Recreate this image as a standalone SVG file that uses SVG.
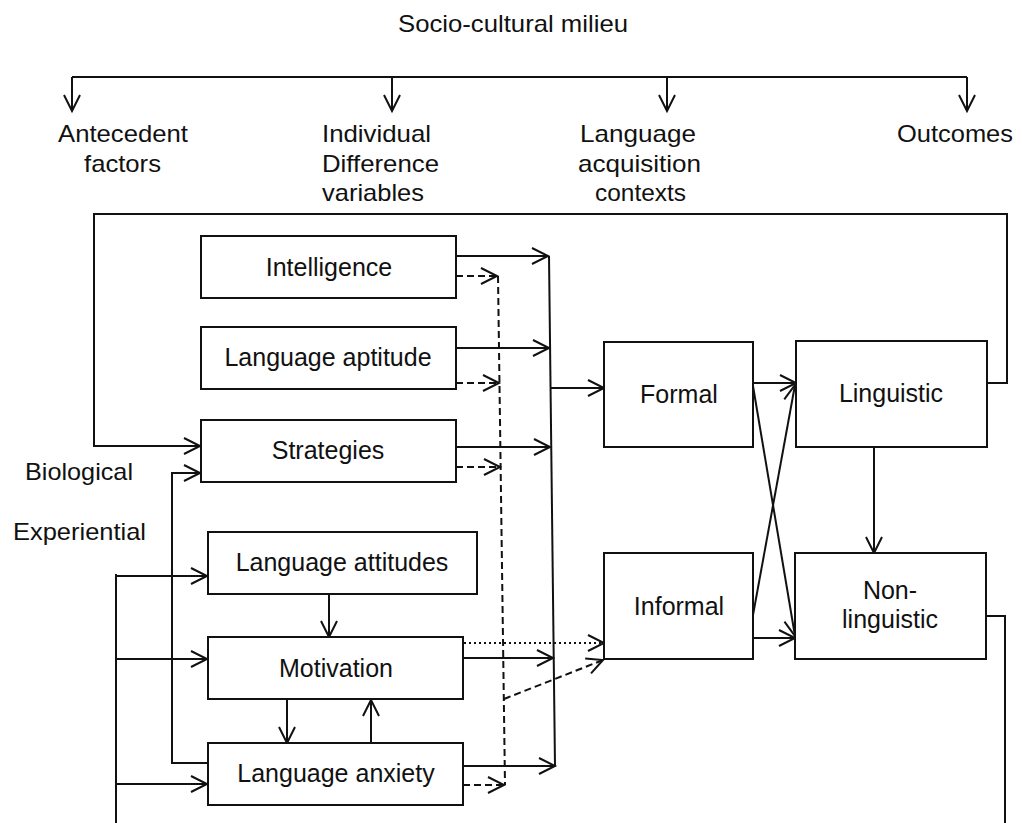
<svg xmlns="http://www.w3.org/2000/svg" width="1022" height="823" viewBox="0 0 1022 823">
  <style>
    .box { fill: #fff; stroke: #111; stroke-width: 2; }
    .lbl { font-family: "Liberation Sans", Arial, sans-serif; font-size: 25px; fill: #111; text-anchor: middle; }
    .hdr { font-family: "Liberation Sans", Arial, sans-serif; font-size: 24px; fill: #111; }
    .ln { fill: none; stroke: #111; stroke-width: 2; }
    .dash { stroke-dasharray: 7 4; }
    .dot { stroke-dasharray: 2 3; }
  </style>
  <defs>
    <marker id="arr" markerUnits="userSpaceOnUse" markerWidth="24" markerHeight="24" viewBox="-20 -12 24 24" refX="0" refY="0" orient="auto">
      <path d="M -16 -8 L 0 0 L -16 8" fill="none" stroke="#111" stroke-width="2"/>
    </marker>
  </defs>
  <rect width="1022" height="823" fill="#fff"/>

  <!-- headings -->
  <g id="headings">
    <text class="hdr" x="398" y="32" textLength="230" lengthAdjust="spacingAndGlyphs">Socio-cultural milieu</text>
    <text class="hdr" x="58" y="142" textLength="130" lengthAdjust="spacingAndGlyphs">Antecedent</text>
    <text class="hdr" x="84" y="172" textLength="77" lengthAdjust="spacingAndGlyphs">factors</text>
    <text class="hdr" x="322" y="142" textLength="109" lengthAdjust="spacingAndGlyphs">Individual</text>
    <text class="hdr" x="322" y="172" textLength="117" lengthAdjust="spacingAndGlyphs">Difference</text>
    <text class="hdr" x="322" y="201" textLength="102" lengthAdjust="spacingAndGlyphs">variables</text>
    <text class="hdr" x="580" y="142" textLength="116" lengthAdjust="spacingAndGlyphs">Language</text>
    <text class="hdr" x="578" y="172" textLength="123" lengthAdjust="spacingAndGlyphs">acquisition</text>
    <text class="hdr" x="595" y="201" textLength="91" lengthAdjust="spacingAndGlyphs">contexts</text>
    <text class="hdr" x="897" y="142" textLength="116" lengthAdjust="spacingAndGlyphs">Outcomes</text>
    <text class="hdr" x="25" y="480" textLength="108" lengthAdjust="spacingAndGlyphs">Biological</text>
    <text class="hdr" x="13" y="540" textLength="133" lengthAdjust="spacingAndGlyphs">Experiential</text>
  </g>

  <!-- connectors -->
  <g id="connectors">
    <!-- milieu bracket -->
    <path class="ln" d="M 72 77 H 967"/>
    <path class="ln" d="M 72 77 V 111" marker-end="url(#arr)"/>
    <path class="ln" d="M 392 77 V 111" marker-end="url(#arr)"/>
    <path class="ln" d="M 667 77 V 111" marker-end="url(#arr)"/>
    <path class="ln" d="M 967 77 V 111" marker-end="url(#arr)"/>

    <!-- feedback from linguistic outcomes -->
    <path class="ln" d="M 987 383 H 1007 V 214 H 94 V 446 H 200" marker-end="url(#arr)"/>
    <!-- non-linguistic outcome exit -->
    <path class="ln" d="M 986 616 H 1005 V 823"/>

    <!-- biological -->
    <path class="ln" d="M 208 763 H 172 V 473 H 200" marker-end="url(#arr)"/>
    <!-- experiential -->
    <path class="ln" d="M 116 574 V 823"/>
    <path class="ln" d="M 116 576 H 207" marker-end="url(#arr)"/>
    <path class="ln" d="M 116 659 H 207" marker-end="url(#arr)"/>
    <path class="ln" d="M 116 784 H 207" marker-end="url(#arr)"/>

    <!-- solid paths to formal context -->
    <path class="ln" d="M 456 256 H 548" marker-end="url(#arr)"/>
    <path class="ln" d="M 456 348 H 549" marker-end="url(#arr)"/>
    <path class="ln" d="M 456 447 H 550" marker-end="url(#arr)"/>
    <path class="ln" d="M 463 658 H 553" marker-end="url(#arr)"/>
    <path class="ln" d="M 463 766 H 555" marker-end="url(#arr)"/>
    <path class="ln" d="M 549 256 L 555 766"/>
    <path class="ln" d="M 550 388 H 604" marker-end="url(#arr)"/>

    <!-- dashed paths to informal context -->
    <path class="ln dash" d="M 456 276 H 497" marker-end="url(#arr)"/>
    <path class="ln dash" d="M 456 383 H 499" marker-end="url(#arr)"/>
    <path class="ln dash" d="M 456 467 H 500" marker-end="url(#arr)"/>
    <path class="ln dash" d="M 463 785 H 504" marker-end="url(#arr)"/>
    <path class="ln dash" d="M 498 276 L 505 785"/>
    <path class="ln dash" d="M 504 699 L 603 660" marker-end="url(#arr)"/>
    <!-- dotted motivation to informal -->
    <path class="ln dot" d="M 464 643 H 604" marker-end="url(#arr)"/>

    <!-- contexts to outcomes -->
    <path class="ln" d="M 753 383 H 796" marker-end="url(#arr)"/>
    <path class="ln" d="M 753 386 L 795 636" marker-end="url(#arr)"/>
    <path class="ln" d="M 753 615 L 795 385" marker-end="url(#arr)"/>
    <path class="ln" d="M 753 638 H 795" marker-end="url(#arr)"/>
    <path class="ln" d="M 874 447 V 553" marker-end="url(#arr)"/>

    <!-- affective variables -->
    <path class="ln" d="M 329 594 V 637" marker-end="url(#arr)"/>
    <path class="ln" d="M 287 699 V 743" marker-end="url(#arr)"/>
    <path class="ln" d="M 371 743 V 700" marker-end="url(#arr)"/>
  </g>

  <!-- individual difference variables -->
  <g id="intelligence">
    <rect class="box" x="201" y="236" width="255" height="62"/>
    <text class="lbl" x="329" y="276">Intelligence</text>
  </g>
  <g id="language-aptitude">
    <rect class="box" x="201" y="327" width="255" height="62"/>
    <text class="lbl" x="328" y="366">Language aptitude</text>
  </g>
  <g id="strategies">
    <rect class="box" x="201" y="420" width="255" height="62"/>
    <text class="lbl" x="328" y="459">Strategies</text>
  </g>
  <g id="language-attitudes">
    <rect class="box" x="208" y="532" width="269" height="62"/>
    <text class="lbl" x="342" y="571">Language attitudes</text>
  </g>
  <g id="motivation">
    <rect class="box" x="208" y="637" width="255" height="62"/>
    <text class="lbl" x="336" y="677">Motivation</text>
  </g>
  <g id="language-anxiety">
    <rect class="box" x="208" y="743" width="255" height="62"/>
    <text class="lbl" x="336" y="782">Language anxiety</text>
  </g>

  <!-- acquisition contexts -->
  <g id="formal">
    <rect class="box" x="604" y="342" width="149" height="105"/>
    <text class="lbl" x="679" y="403">Formal</text>
  </g>
  <g id="informal">
    <rect class="box" x="604" y="553" width="149" height="106"/>
    <text class="lbl" x="679" y="615">Informal</text>
  </g>

  <!-- outcomes -->
  <g id="linguistic">
    <rect class="box" x="796" y="341" width="191" height="106"/>
    <text class="lbl" x="891" y="402">Linguistic</text>
  </g>
  <g id="non-linguistic">
    <rect class="box" x="795" y="553" width="191" height="106"/>
    <text class="lbl" x="890" y="599">Non-</text>
    <text class="lbl" x="890" y="628">linguistic</text>
  </g>
</svg>
